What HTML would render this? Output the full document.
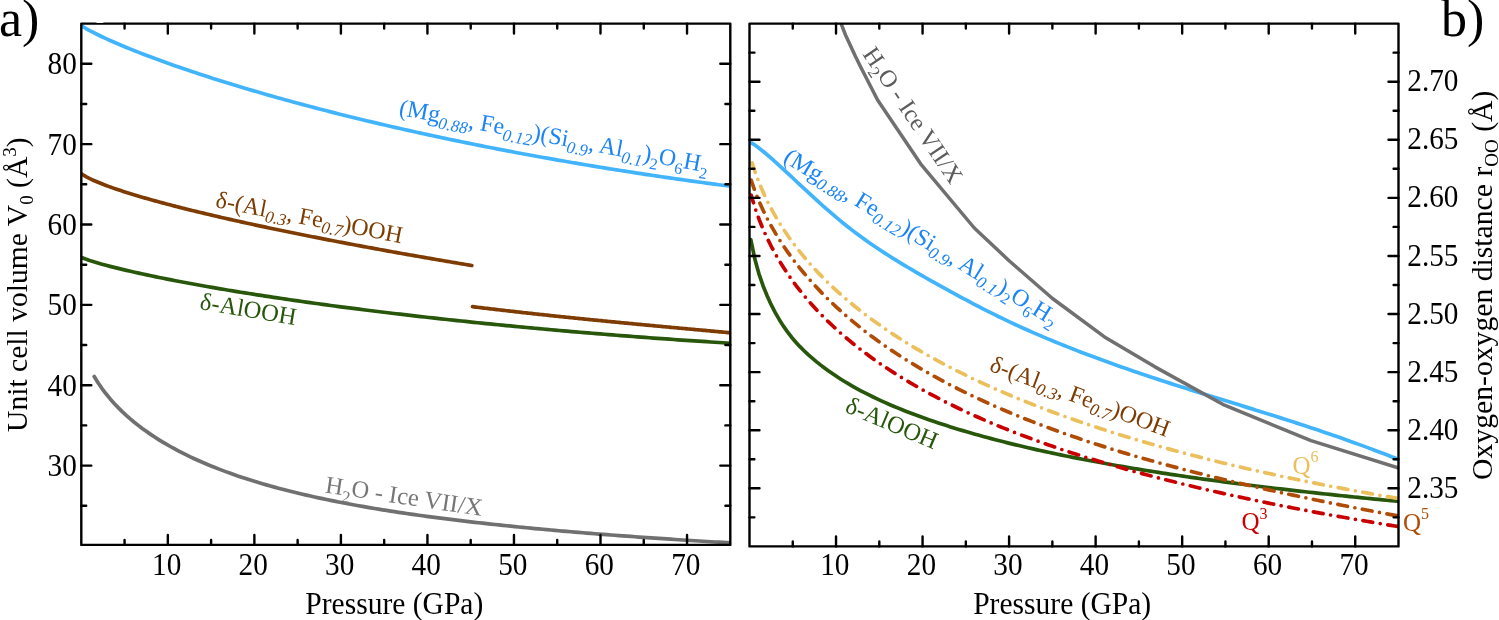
<!DOCTYPE html>
<html><head><meta charset="utf-8"><style>
html,body{margin:0;padding:0;background:#fff;width:1499px;height:620px;overflow:hidden;}
</style></head><body>
<svg width="1499" height="620" viewBox="0 0 1499 620" style="position:absolute;left:0;top:0;will-change:transform">
<rect width="1499" height="620" fill="#fff"/>
<defs><clipPath id="ca"><rect x="81.3" y="23.6" width="649.0" height="521.3"/></clipPath><clipPath id="cb"><rect x="749.5" y="23.6" width="649.0" height="522.8"/></clipPath></defs>
<g clip-path="url(#ca)">
<path d="M81.5,25.72 L85.58,28.27 L89.67,30.57 L93.75,32.72 L97.84,34.77 L101.92,36.73 L106.01,38.63 L110.09,40.48 L114.18,42.28 L118.26,44.04 L122.35,45.76 L126.43,47.45 L130.52,49.11 L134.6,50.75 L138.69,52.35 L142.77,53.94 L146.86,55.5 L150.94,57.04 L155.03,58.56 L159.11,60.06 L163.2,61.54 L167.28,63.01 L171.37,64.46 L175.45,65.89 L179.54,67.31 L183.62,68.71 L187.71,70.1 L191.79,71.48 L195.88,72.84 L199.96,74.18 L204.05,75.52 L208.13,76.84 L212.22,78.15 L216.3,79.45 L220.39,80.74 L224.47,82.01 L228.56,83.28 L232.64,84.53 L236.73,85.78 L240.81,87.01 L244.9,88.23 L248.98,89.45 L253.07,90.65 L257.15,91.85 L261.24,93.03 L265.32,94.21 L269.41,95.37 L273.49,96.53 L277.58,97.68 L281.66,98.82 L285.75,99.95 L289.83,101.07 L293.92,102.19 L298,103.29 L302.08,104.39 L306.17,105.48 L310.25,106.56 L314.34,107.64 L318.42,108.71 L322.51,109.76 L326.59,110.82 L330.68,111.86 L334.76,112.9 L338.85,113.93 L342.93,114.95 L347.02,115.97 L351.1,116.97 L355.19,117.97 L359.27,118.97 L363.36,119.96 L367.44,120.94 L371.53,121.91 L375.61,122.88 L379.7,123.84 L383.78,124.8 L387.87,125.74 L391.95,126.69 L396.04,127.62 L400.12,128.55 L404.21,129.47 L408.29,130.39 L412.38,131.3 L416.46,132.2 L420.55,133.1 L424.63,133.99 L428.72,134.88 L432.8,135.76 L436.89,136.64 L440.97,137.51 L445.06,138.37 L449.14,139.23 L453.23,140.08 L457.31,140.92 L461.4,141.76 L465.48,142.6 L469.57,143.43 L473.65,144.25 L477.74,145.07 L481.82,145.88 L485.91,146.69 L489.99,147.49 L494.08,148.29 L498.16,149.08 L502.25,149.87 L506.33,150.65 L510.42,151.43 L514.5,152.2 L518.58,152.96 L522.67,153.72 L526.75,154.48 L530.84,155.23 L534.92,155.97 L539.01,156.71 L543.09,157.45 L547.18,158.18 L551.26,158.91 L555.35,159.63 L559.43,160.34 L563.52,161.05 L567.6,161.76 L571.69,162.46 L575.77,163.16 L579.86,163.85 L583.94,164.54 L588.03,165.22 L592.11,165.9 L596.2,166.57 L600.28,167.24 L604.37,167.91 L608.45,168.56 L612.54,169.22 L616.62,169.87 L620.71,170.52 L624.79,171.16 L628.88,171.79 L632.96,172.43 L637.05,173.05 L641.13,173.68 L645.22,174.3 L649.3,174.91 L653.39,175.52 L657.47,176.13 L661.56,176.73 L665.64,177.33 L669.73,177.92 L673.81,178.51 L677.9,179.1 L681.98,179.68 L686.07,180.25 L690.15,180.83 L694.24,181.39 L698.32,181.96 L702.41,182.52 L706.49,183.07 L710.58,183.62 L714.66,184.17 L718.75,184.71 L722.83,185.25 L726.92,185.79 L731,186.32" fill="none" stroke="#42b4fc" stroke-width="3.7" stroke-linecap="round" stroke-linejoin="round" />
<path d="M81.5,173.88 L83.95,175.47 L86.41,176.88 L88.86,178.16 L91.32,179.35 L93.77,180.48 L96.23,181.55 L98.68,182.58 L101.14,183.57 L103.59,184.53 L106.05,185.46 L108.5,186.37 L110.96,187.25 L113.41,188.12 L115.87,188.96 L118.32,189.79 L120.78,190.61 L123.23,191.41 L125.68,192.19 L128.14,192.97 L130.59,193.73 L133.05,194.49 L135.5,195.23 L137.96,195.96 L140.41,196.69 L142.87,197.41 L145.32,198.11 L147.78,198.82 L150.23,199.51 L152.69,200.2 L155.14,200.88 L157.6,201.55 L160.05,202.22 L162.51,202.88 L164.96,203.54 L167.42,204.19 L169.87,204.83 L172.32,205.48 L174.78,206.11 L177.23,206.74 L179.69,207.37 L182.14,207.99 L184.6,208.61 L187.05,209.22 L189.51,209.83 L191.96,210.44 L194.42,211.04 L196.87,211.64 L199.33,212.23 L201.78,212.82 L204.24,213.41 L206.69,213.99 L209.15,214.57 L211.6,215.15 L214.05,215.73 L216.51,216.3 L218.96,216.87 L221.42,217.43 L223.87,217.99 L226.33,218.55 L228.78,219.11 L231.24,219.66 L233.69,220.22 L236.15,220.77 L238.6,221.31 L241.06,221.86 L243.51,222.4 L245.97,222.94 L248.42,223.47 L250.88,224.01 L253.33,224.54 L255.78,225.07 L258.24,225.6 L260.69,226.12 L263.15,226.65 L265.6,227.17 L268.06,227.69 L270.51,228.2 L272.97,228.72 L275.42,229.23 L277.88,229.74 L280.33,230.25 L282.79,230.76 L285.24,231.26 L287.7,231.77 L290.15,232.27 L292.61,232.77 L295.06,233.27 L297.52,233.76 L299.97,234.26 L302.42,234.75 L304.88,235.24 L307.33,235.73 L309.79,236.22 L312.24,236.71 L314.7,237.19 L317.15,237.68 L319.61,238.16 L322.06,238.64 L324.52,239.12 L326.97,239.59 L329.43,240.07 L331.88,240.54 L334.34,241.01 L336.79,241.49 L339.25,241.96 L341.7,242.42 L344.15,242.89 L346.61,243.36 L349.06,243.82 L351.52,244.28 L353.97,244.74 L356.43,245.2 L358.88,245.66 L361.34,246.12 L363.79,246.58 L366.25,247.03 L368.7,247.48 L371.16,247.94 L373.61,248.39 L376.07,248.84 L378.52,249.29 L380.98,249.73 L383.43,250.18 L385.88,250.62 L388.34,251.07 L390.79,251.51 L393.25,251.95 L395.7,252.39 L398.16,252.83 L400.61,253.27 L403.07,253.71 L405.52,254.14 L407.98,254.58 L410.43,255.01 L412.89,255.44 L415.34,255.87 L417.8,256.3 L420.25,256.73 L422.71,257.16 L425.16,257.59 L427.62,258.02 L430.07,258.44 L432.52,258.86 L434.98,259.29 L437.43,259.71 L439.89,260.13 L442.34,260.55 L444.8,260.97 L447.25,261.39 L449.71,261.8 L452.16,262.22 L454.62,262.63 L457.07,263.05 L459.53,263.46 L461.98,263.87 L464.44,264.29 L466.89,264.7 L469.35,265.11 L471.8,265.51" fill="none" stroke="#7e3b02" stroke-width="3.7" stroke-linecap="round" stroke-linejoin="round" />
<path d="M472.5,306.68 L474.13,306.87 L475.75,307.07 L477.38,307.27 L479,307.47 L480.63,307.66 L482.25,307.86 L483.88,308.05 L485.51,308.25 L487.13,308.44 L488.76,308.64 L490.38,308.83 L492.01,309.02 L493.64,309.21 L495.26,309.4 L496.89,309.59 L498.51,309.78 L500.14,309.97 L501.76,310.16 L503.39,310.35 L505.02,310.53 L506.64,310.72 L508.27,310.91 L509.89,311.09 L511.52,311.28 L513.14,311.46 L514.77,311.64 L516.4,311.83 L518.02,312.01 L519.65,312.19 L521.27,312.37 L522.9,312.55 L524.53,312.73 L526.15,312.91 L527.78,313.09 L529.4,313.27 L531.03,313.45 L532.65,313.63 L534.28,313.8 L535.91,313.98 L537.53,314.16 L539.16,314.33 L540.78,314.51 L542.41,314.68 L544.03,314.86 L545.66,315.03 L547.29,315.2 L548.91,315.38 L550.54,315.55 L552.16,315.72 L553.79,315.89 L555.42,316.06 L557.04,316.23 L558.67,316.4 L560.29,316.57 L561.92,316.74 L563.54,316.91 L565.17,317.08 L566.8,317.25 L568.42,317.41 L570.05,317.58 L571.67,317.75 L573.3,317.91 L574.92,318.08 L576.55,318.25 L578.18,318.41 L579.8,318.58 L581.43,318.74 L583.05,318.9 L584.68,319.07 L586.31,319.23 L587.93,319.39 L589.56,319.56 L591.18,319.72 L592.81,319.88 L594.43,320.04 L596.06,320.2 L597.69,320.36 L599.31,320.52 L600.94,320.68 L602.56,320.84 L604.19,321 L605.81,321.16 L607.44,321.32 L609.07,321.48 L610.69,321.64 L612.32,321.8 L613.94,321.95 L615.57,322.11 L617.19,322.27 L618.82,322.42 L620.45,322.58 L622.07,322.74 L623.7,322.89 L625.32,323.05 L626.95,323.21 L628.58,323.36 L630.2,323.52 L631.83,323.67 L633.45,323.82 L635.08,323.98 L636.7,324.13 L638.33,324.29 L639.96,324.44 L641.58,324.59 L643.21,324.75 L644.83,324.9 L646.46,325.05 L648.08,325.21 L649.71,325.36 L651.34,325.51 L652.96,325.66 L654.59,325.82 L656.21,325.97 L657.84,326.12 L659.47,326.27 L661.09,326.42 L662.72,326.57 L664.34,326.72 L665.97,326.87 L667.59,327.03 L669.22,327.18 L670.85,327.33 L672.47,327.48 L674.1,327.63 L675.72,327.78 L677.35,327.93 L678.97,328.08 L680.6,328.23 L682.23,328.38 L683.85,328.53 L685.48,328.68 L687.1,328.82 L688.73,328.97 L690.36,329.12 L691.98,329.27 L693.61,329.42 L695.23,329.57 L696.86,329.72 L698.48,329.87 L700.11,330.02 L701.74,330.17 L703.36,330.32 L704.99,330.46 L706.61,330.61 L708.24,330.76 L709.86,330.91 L711.49,331.06 L713.12,331.21 L714.74,331.36 L716.37,331.5 L717.99,331.65 L719.62,331.8 L721.25,331.95 L722.87,332.1 L724.5,332.25 L726.12,332.4 L727.75,332.55 L729.37,332.69 L731,332.84" fill="none" stroke="#7e3b02" stroke-width="3.7" stroke-linecap="round" stroke-linejoin="round" />
<path d="M81.5,257.44 L85.58,259.06 L89.67,260.48 L93.75,261.78 L97.84,263.01 L101.92,264.17 L106.01,265.29 L110.09,266.37 L114.18,267.41 L118.26,268.42 L122.35,269.41 L126.43,270.38 L130.52,271.32 L134.6,272.25 L138.69,273.16 L142.77,274.05 L146.86,274.92 L150.94,275.79 L155.03,276.64 L159.11,277.47 L163.2,278.3 L167.28,279.11 L171.37,279.91 L175.45,280.7 L179.54,281.48 L183.62,282.26 L187.71,283.02 L191.79,283.77 L195.88,284.52 L199.96,285.25 L204.05,285.98 L208.13,286.7 L212.22,287.42 L216.3,288.12 L220.39,288.82 L224.47,289.51 L228.56,290.2 L232.64,290.88 L236.73,291.55 L240.81,292.21 L244.9,292.87 L248.98,293.53 L253.07,294.17 L257.15,294.81 L261.24,295.45 L265.32,296.08 L269.41,296.7 L273.49,297.32 L277.58,297.94 L281.66,298.54 L285.75,299.15 L289.83,299.75 L293.92,300.34 L298,300.93 L302.08,301.51 L306.17,302.09 L310.25,302.66 L314.34,303.23 L318.42,303.79 L322.51,304.35 L326.59,304.91 L330.68,305.46 L334.76,306.01 L338.85,306.55 L342.93,307.09 L347.02,307.62 L351.1,308.15 L355.19,308.68 L359.27,309.2 L363.36,309.72 L367.44,310.23 L371.53,310.74 L375.61,311.24 L379.7,311.75 L383.78,312.24 L387.87,312.74 L391.95,313.23 L396.04,313.72 L400.12,314.2 L404.21,314.68 L408.29,315.15 L412.38,315.63 L416.46,316.09 L420.55,316.56 L424.63,317.02 L428.72,317.48 L432.8,317.94 L436.89,318.39 L440.97,318.83 L445.06,319.28 L449.14,319.72 L453.23,320.16 L457.31,320.59 L461.4,321.03 L465.48,321.45 L469.57,321.88 L473.65,322.3 L477.74,322.72 L481.82,323.14 L485.91,323.55 L489.99,323.96 L494.08,324.37 L498.16,324.77 L502.25,325.17 L506.33,325.57 L510.42,325.96 L514.5,326.35 L518.58,326.74 L522.67,327.13 L526.75,327.51 L530.84,327.89 L534.92,328.27 L539.01,328.64 L543.09,329.01 L547.18,329.38 L551.26,329.75 L555.35,330.11 L559.43,330.47 L563.52,330.83 L567.6,331.18 L571.69,331.54 L575.77,331.89 L579.86,332.23 L583.94,332.58 L588.03,332.92 L592.11,333.26 L596.2,333.59 L600.28,333.93 L604.37,334.26 L608.45,334.59 L612.54,334.91 L616.62,335.23 L620.71,335.56 L624.79,335.87 L628.88,336.19 L632.96,336.5 L637.05,336.81 L641.13,337.12 L645.22,337.43 L649.3,337.73 L653.39,338.03 L657.47,338.33 L661.56,338.62 L665.64,338.92 L669.73,339.21 L673.81,339.5 L677.9,339.78 L681.98,340.07 L686.07,340.35 L690.15,340.63 L694.24,340.9 L698.32,341.18 L702.41,341.45 L706.49,341.72 L710.58,341.98 L714.66,342.25 L718.75,342.51 L722.83,342.77 L726.92,343.03 L731,343.29" fill="none" stroke="#28570c" stroke-width="3.7" stroke-linecap="round" stroke-linejoin="round" />
<path d="M94.2,376.54 L98.21,382.97 L102.21,388.76 L106.22,394.04 L110.22,398.91 L114.23,403.42 L118.23,407.64 L122.24,411.6 L126.24,415.33 L130.25,418.86 L134.25,422.22 L138.26,425.4 L142.26,428.44 L146.27,431.35 L150.27,434.13 L154.28,436.8 L158.28,439.36 L162.29,441.83 L166.29,444.2 L170.3,446.49 L174.3,448.7 L178.31,450.84 L182.31,452.9 L186.32,454.9 L190.32,456.83 L194.33,458.71 L198.33,460.53 L202.34,462.29 L206.34,464.01 L210.35,465.67 L214.35,467.29 L218.36,468.86 L222.36,470.39 L226.37,471.88 L230.37,473.34 L234.38,474.75 L238.38,476.13 L242.39,477.47 L246.39,478.78 L250.4,480.05 L254.4,481.3 L258.41,482.52 L262.41,483.7 L266.42,484.86 L270.42,485.99 L274.43,487.1 L278.43,488.18 L282.44,489.24 L286.44,490.28 L290.45,491.29 L294.45,492.28 L298.46,493.25 L302.46,494.2 L306.47,495.14 L310.47,496.05 L314.48,496.94 L318.48,497.82 L322.49,498.68 L326.49,499.52 L330.5,500.35 L334.5,501.16 L338.51,501.95 L342.51,502.73 L346.52,503.5 L350.52,504.25 L354.53,504.99 L358.53,505.71 L362.54,506.43 L366.54,507.13 L370.55,507.81 L374.55,508.49 L378.56,509.15 L382.56,509.81 L386.57,510.45 L390.57,511.08 L394.58,511.7 L398.58,512.31 L402.59,512.91 L406.59,513.51 L410.6,514.09 L414.6,514.66 L418.61,515.23 L422.61,515.78 L426.62,516.33 L430.62,516.87 L434.63,517.4 L438.63,517.92 L442.64,518.44 L446.64,518.95 L450.65,519.45 L454.65,519.94 L458.66,520.43 L462.66,520.91 L466.67,521.38 L470.67,521.85 L474.68,522.31 L478.68,522.76 L482.69,523.21 L486.69,523.65 L490.7,524.09 L494.7,524.52 L498.71,524.94 L502.71,525.36 L506.72,525.78 L510.72,526.19 L514.73,526.59 L518.73,526.99 L522.74,527.38 L526.74,527.77 L530.75,528.16 L534.75,528.54 L538.76,528.91 L542.76,529.28 L546.77,529.65 L550.77,530.01 L554.78,530.37 L558.78,530.72 L562.79,531.07 L566.79,531.42 L570.8,531.76 L574.8,532.09 L578.81,532.43 L582.81,532.76 L586.82,533.09 L590.82,533.41 L594.83,533.73 L598.83,534.04 L602.84,534.36 L606.84,534.67 L610.85,534.97 L614.85,535.28 L618.86,535.58 L622.86,535.87 L626.87,536.17 L630.87,536.46 L634.88,536.75 L638.88,537.03 L642.89,537.31 L646.89,537.59 L650.9,537.87 L654.9,538.15 L658.91,538.42 L662.91,538.69 L666.92,538.95 L670.92,539.22 L674.93,539.48 L678.93,539.74 L682.94,540 L686.94,540.25 L690.95,540.51 L694.95,540.76 L698.96,541.01 L702.96,541.25 L706.97,541.5 L710.97,541.74 L714.98,541.98 L718.98,542.22 L722.99,542.46 L726.99,542.69 L731,542.93" fill="none" stroke="#707070" stroke-width="3.7" stroke-linecap="round" stroke-linejoin="round" />
</g>
<g clip-path="url(#cb)">
<path d="M750.8,239.51 L754.88,259.32 L758.95,273.86 L763.03,285.71 L767.11,295.81 L771.18,304.68 L775.26,312.59 L779.34,319.7 L783.41,326.12 L787.49,331.93 L791.57,337.2 L795.64,341.99 L799.72,346.4 L803.8,350.48 L807.87,354.31 L811.95,357.93 L816.03,361.36 L820.1,364.63 L824.18,367.75 L828.26,370.73 L832.33,373.59 L836.41,376.33 L840.49,378.96 L844.56,381.49 L848.64,383.94 L852.72,386.29 L856.79,388.57 L860.87,390.77 L864.95,392.91 L869.03,394.97 L873.1,396.98 L877.18,398.93 L881.26,400.82 L885.33,402.66 L889.41,404.45 L893.49,406.2 L897.56,407.9 L901.64,409.56 L905.72,411.18 L909.79,412.77 L913.87,414.32 L917.95,415.83 L922.02,417.31 L926.1,418.77 L930.18,420.19 L934.25,421.58 L938.33,422.95 L942.41,424.29 L946.48,425.61 L950.56,426.9 L954.64,428.17 L958.71,429.42 L962.79,430.64 L966.87,431.85 L970.94,433.03 L975.02,434.19 L979.1,435.34 L983.17,436.46 L987.25,437.57 L991.33,438.66 L995.4,439.73 L999.48,440.78 L1003.56,441.82 L1007.63,442.84 L1011.71,443.85 L1015.79,444.84 L1019.86,445.82 L1023.94,446.79 L1028.02,447.74 L1032.09,448.67 L1036.17,449.59 L1040.25,450.5 L1044.32,451.4 L1048.4,452.29 L1052.48,453.16 L1056.55,454.02 L1060.63,454.87 L1064.71,455.71 L1068.78,456.54 L1072.86,457.36 L1076.94,458.16 L1081.02,458.96 L1085.09,459.75 L1089.17,460.53 L1093.25,461.29 L1097.32,462.05 L1101.4,462.8 L1105.48,463.54 L1109.55,464.27 L1113.63,465 L1117.71,465.71 L1121.78,466.42 L1125.86,467.12 L1129.94,467.81 L1134.01,468.49 L1138.09,469.17 L1142.17,469.83 L1146.24,470.49 L1150.32,471.15 L1154.4,471.79 L1158.47,472.43 L1162.55,473.07 L1166.63,473.69 L1170.7,474.31 L1174.78,474.93 L1178.86,475.53 L1182.93,476.13 L1187.01,476.73 L1191.09,477.32 L1195.16,477.9 L1199.24,478.48 L1203.32,479.05 L1207.39,479.62 L1211.47,480.18 L1215.55,480.73 L1219.62,481.28 L1223.7,481.83 L1227.78,482.37 L1231.85,482.9 L1235.93,483.43 L1240.01,483.96 L1244.08,484.48 L1248.16,484.99 L1252.24,485.51 L1256.31,486.01 L1260.39,486.51 L1264.47,487.01 L1268.54,487.51 L1272.62,488 L1276.7,488.48 L1280.77,488.96 L1284.85,489.44 L1288.93,489.91 L1293.01,490.38 L1297.08,490.85 L1301.16,491.31 L1305.24,491.77 L1309.31,492.22 L1313.39,492.68 L1317.47,493.12 L1321.54,493.57 L1325.62,494.01 L1329.7,494.45 L1333.77,494.88 L1337.85,495.31 L1341.93,495.74 L1346,496.16 L1350.08,496.58 L1354.16,497 L1358.23,497.42 L1362.31,497.83 L1366.39,498.24 L1370.46,498.64 L1374.54,499.05 L1378.62,499.45 L1382.69,499.85 L1386.77,500.24 L1390.85,500.63 L1394.92,501.02 L1399,501.41" fill="none" stroke="#28570c" stroke-width="3.7" stroke-linecap="round" stroke-linejoin="round" />
<path d="M751.1,195.1 L755.17,208.42 L759.25,219.74 L763.32,229.68 L767.4,238.62 L771.47,246.76 L775.55,254.27 L779.62,261.26 L783.7,267.8 L787.77,273.95 L791.85,279.78 L795.92,285.3 L800,290.57 L804.07,295.6 L808.15,300.42 L812.22,305.04 L816.3,309.49 L820.37,313.78 L824.45,317.91 L828.52,321.91 L832.6,325.78 L836.67,329.53 L840.75,333.16 L844.82,336.69 L848.9,340.12 L852.97,343.46 L857.05,346.71 L861.12,349.87 L865.2,352.96 L869.27,355.97 L873.35,358.91 L877.42,361.78 L881.49,364.59 L885.57,367.33 L889.64,370.01 L893.72,372.64 L897.79,375.21 L901.87,377.73 L905.94,380.2 L910.02,382.62 L914.09,385 L918.17,387.33 L922.24,389.61 L926.32,391.86 L930.39,394.06 L934.47,396.23 L938.54,398.36 L942.62,400.45 L946.69,402.5 L950.77,404.53 L954.84,406.51 L958.92,408.47 L962.99,410.4 L967.07,412.29 L971.14,414.16 L975.22,415.99 L979.29,417.8 L983.37,419.59 L987.44,421.34 L991.52,423.07 L995.59,424.78 L999.67,426.46 L1003.74,428.12 L1007.82,429.75 L1011.89,431.36 L1015.96,432.95 L1020.04,434.52 L1024.11,436.07 L1028.19,437.6 L1032.26,439.1 L1036.34,440.59 L1040.41,442.06 L1044.49,443.51 L1048.56,444.94 L1052.64,446.35 L1056.71,447.75 L1060.79,449.13 L1064.86,450.49 L1068.94,451.84 L1073.01,453.17 L1077.09,454.48 L1081.16,455.78 L1085.24,457.06 L1089.31,458.33 L1093.39,459.59 L1097.46,460.83 L1101.54,462.06 L1105.61,463.27 L1109.69,464.47 L1113.76,465.66 L1117.84,466.83 L1121.91,467.99 L1125.99,469.14 L1130.06,470.28 L1134.14,471.41 L1138.21,472.52 L1142.28,473.62 L1146.36,474.72 L1150.43,475.8 L1154.51,476.87 L1158.58,477.93 L1162.66,478.98 L1166.73,480.01 L1170.81,481.04 L1174.88,482.06 L1178.96,483.07 L1183.03,484.07 L1187.11,485.06 L1191.18,486.04 L1195.26,487.01 L1199.33,487.98 L1203.41,488.93 L1207.48,489.88 L1211.56,490.81 L1215.63,491.74 L1219.71,492.66 L1223.78,493.57 L1227.86,494.48 L1231.93,495.38 L1236.01,496.26 L1240.08,497.15 L1244.16,498.02 L1248.23,498.89 L1252.31,499.75 L1256.38,500.6 L1260.46,501.44 L1264.53,502.28 L1268.61,503.11 L1272.68,503.94 L1276.75,504.75 L1280.83,505.57 L1284.9,506.37 L1288.98,507.17 L1293.05,507.96 L1297.13,508.75 L1301.2,509.53 L1305.28,510.3 L1309.35,511.07 L1313.43,511.83 L1317.5,512.59 L1321.58,513.34 L1325.65,514.09 L1329.73,514.83 L1333.8,515.56 L1337.88,516.29 L1341.95,517.01 L1346.03,517.73 L1350.1,518.45 L1354.18,519.15 L1358.25,519.86 L1362.33,520.56 L1366.4,521.25 L1370.48,521.94 L1374.55,522.62 L1378.63,523.3 L1382.7,523.98 L1386.78,524.65 L1390.85,525.32 L1394.93,525.98 L1399,526.64" fill="none" stroke="#c80000" stroke-width="3.7" stroke-linecap="round" stroke-linejoin="round" stroke-dasharray="9.87 7.65 0 7.65" stroke-dashoffset="1.8"/>
<path d="M751.1,180.23 L755.17,191.79 L759.25,201.81 L763.32,210.76 L767.4,218.9 L771.47,226.43 L775.55,233.44 L779.62,240.02 L783.7,246.24 L787.77,252.14 L791.85,257.77 L795.92,263.14 L800,268.3 L804.07,273.25 L808.15,278.02 L812.22,282.62 L816.3,287.07 L820.37,291.37 L824.45,295.54 L828.52,299.58 L832.6,303.51 L836.67,307.32 L840.75,311.03 L844.82,314.64 L848.9,318.16 L852.97,321.59 L857.05,324.93 L861.12,328.19 L865.2,331.38 L869.27,334.49 L873.35,337.53 L877.42,340.51 L881.49,343.42 L885.57,346.27 L889.64,349.05 L893.72,351.79 L897.79,354.47 L901.87,357.09 L905.94,359.67 L910.02,362.2 L914.09,364.68 L918.17,367.11 L922.24,369.5 L926.32,371.85 L930.39,374.16 L934.47,376.43 L938.54,378.67 L942.62,380.86 L946.69,383.02 L950.77,385.15 L954.84,387.24 L958.92,389.3 L962.99,391.32 L967.07,393.32 L971.14,395.28 L975.22,397.22 L979.29,399.13 L983.37,401.01 L987.44,402.86 L991.52,404.68 L995.59,406.48 L999.67,408.26 L1003.74,410.01 L1007.82,411.73 L1011.89,413.44 L1015.96,415.12 L1020.04,416.77 L1024.11,418.41 L1028.19,420.02 L1032.26,421.61 L1036.34,423.18 L1040.41,424.74 L1044.49,426.27 L1048.56,427.78 L1052.64,429.27 L1056.71,430.75 L1060.79,432.21 L1064.86,433.65 L1068.94,435.07 L1073.01,436.47 L1077.09,437.86 L1081.16,439.24 L1085.24,440.6 L1089.31,441.94 L1093.39,443.27 L1097.46,444.58 L1101.54,445.88 L1105.61,447.16 L1109.69,448.43 L1113.76,449.69 L1117.84,450.94 L1121.91,452.17 L1125.99,453.39 L1130.06,454.6 L1134.14,455.79 L1138.21,456.98 L1142.28,458.15 L1146.36,459.31 L1150.43,460.46 L1154.51,461.6 L1158.58,462.73 L1162.66,463.84 L1166.73,464.95 L1170.81,466.05 L1174.88,467.14 L1178.96,468.21 L1183.03,469.28 L1187.11,470.34 L1191.18,471.39 L1195.26,472.44 L1199.33,473.47 L1203.41,474.49 L1207.48,475.51 L1211.56,476.52 L1215.63,477.52 L1219.71,478.51 L1223.78,479.49 L1227.86,480.47 L1231.93,481.44 L1236.01,482.4 L1240.08,483.35 L1244.16,484.3 L1248.23,485.24 L1252.31,486.18 L1256.38,487.1 L1260.46,488.02 L1264.53,488.94 L1268.61,489.84 L1272.68,490.74 L1276.75,491.64 L1280.83,492.53 L1284.9,493.41 L1288.98,494.29 L1293.05,495.16 L1297.13,496.03 L1301.2,496.89 L1305.28,497.74 L1309.35,498.59 L1313.43,499.44 L1317.5,500.28 L1321.58,501.11 L1325.65,501.94 L1329.73,502.76 L1333.8,503.58 L1337.88,504.4 L1341.95,505.21 L1346.03,506.01 L1350.1,506.81 L1354.18,507.61 L1358.25,508.4 L1362.33,509.19 L1366.4,509.98 L1370.48,510.76 L1374.55,511.53 L1378.63,512.31 L1382.7,513.07 L1386.78,513.84 L1390.85,514.6 L1394.93,515.36 L1399,516.11" fill="none" stroke="#b04c06" stroke-width="3.7" stroke-linecap="round" stroke-linejoin="round" stroke-dasharray="9.8 7.6 0 7.6" stroke-dashoffset="0.3"/>
<path d="M752.1,162.99 L756.17,175.1 L760.24,185.54 L764.31,194.82 L768.37,203.21 L772.44,210.92 L776.51,218.07 L780.58,224.75 L784.65,231.03 L788.72,236.96 L792.79,242.6 L796.85,247.96 L800.92,253.09 L804.99,258.01 L809.06,262.73 L813.13,267.28 L817.2,271.66 L821.27,275.89 L825.33,279.99 L829.4,283.96 L833.47,287.81 L837.54,291.54 L841.61,295.17 L845.68,298.71 L849.75,302.15 L853.81,305.5 L857.88,308.78 L861.95,311.97 L866.02,315.09 L870.09,318.14 L874.16,321.12 L878.23,324.03 L882.29,326.89 L886.36,329.68 L890.43,332.42 L894.5,335.11 L898.57,337.74 L902.64,340.33 L906.71,342.87 L910.77,345.36 L914.84,347.8 L918.91,350.2 L922.98,352.57 L927.05,354.89 L931.12,357.17 L935.18,359.42 L939.25,361.63 L943.32,363.8 L947.39,365.94 L951.46,368.05 L955.53,370.12 L959.6,372.17 L963.66,374.18 L967.73,376.17 L971.8,378.12 L975.87,380.05 L979.94,381.95 L984.01,383.83 L988.08,385.68 L992.14,387.5 L996.21,389.3 L1000.28,391.08 L1004.35,392.83 L1008.42,394.56 L1012.49,396.27 L1016.56,397.95 L1020.62,399.62 L1024.69,401.26 L1028.76,402.89 L1032.83,404.49 L1036.9,406.07 L1040.97,407.64 L1045.04,409.19 L1049.1,410.72 L1053.17,412.23 L1057.24,413.72 L1061.31,415.2 L1065.38,416.66 L1069.45,418.1 L1073.52,419.53 L1077.58,420.94 L1081.65,422.34 L1085.72,423.72 L1089.79,425.08 L1093.86,426.43 L1097.93,427.77 L1102,429.09 L1106.06,430.4 L1110.13,431.7 L1114.2,432.98 L1118.27,434.24 L1122.34,435.5 L1126.41,436.74 L1130.48,437.97 L1134.54,439.19 L1138.61,440.39 L1142.68,441.59 L1146.75,442.77 L1150.82,443.94 L1154.89,445.1 L1158.96,446.24 L1163.02,447.38 L1167.09,448.5 L1171.16,449.62 L1175.23,450.72 L1179.3,451.81 L1183.37,452.9 L1187.44,453.97 L1191.5,455.03 L1195.57,456.08 L1199.64,457.13 L1203.71,458.16 L1207.78,459.18 L1211.85,460.2 L1215.92,461.2 L1219.98,462.2 L1224.05,463.19 L1228.12,464.17 L1232.19,465.14 L1236.26,466.1 L1240.33,467.05 L1244.39,468 L1248.46,468.93 L1252.53,469.86 L1256.6,470.78 L1260.67,471.69 L1264.74,472.6 L1268.81,473.49 L1272.87,474.38 L1276.94,475.26 L1281.01,476.14 L1285.08,477 L1289.15,477.86 L1293.22,478.71 L1297.29,479.56 L1301.35,480.39 L1305.42,481.22 L1309.49,482.05 L1313.56,482.86 L1317.63,483.67 L1321.7,484.48 L1325.77,485.27 L1329.83,486.06 L1333.9,486.85 L1337.97,487.63 L1342.04,488.4 L1346.11,489.16 L1350.18,489.92 L1354.25,490.67 L1358.31,491.42 L1362.38,492.16 L1366.45,492.89 L1370.52,493.62 L1374.59,494.35 L1378.66,495.06 L1382.73,495.77 L1386.79,496.48 L1390.86,497.18 L1394.93,497.87 L1399,498.56" fill="none" stroke="#ebbf5c" stroke-width="3.7" stroke-linecap="round" stroke-linejoin="round" stroke-dasharray="9.8 7.6 0 7.6"/>
<path d="M749.7,141.71 L753.78,144.37 L757.87,147.31 L761.95,150.46 L766.03,153.8 L770.12,157.28 L774.2,160.87 L778.29,164.55 L782.37,168.29 L786.45,172.08 L790.54,175.9 L794.62,179.73 L798.7,183.56 L802.79,187.39 L806.87,191.19 L810.95,194.97 L815.04,198.72 L819.12,202.42 L823.21,206.07 L827.29,209.67 L831.37,213.22 L835.46,216.7 L839.54,220.11 L843.62,223.45 L847.71,226.72 L851.79,229.91 L855.87,233.03 L859.96,236.06 L864.04,239.02 L868.13,241.92 L872.21,244.75 L876.29,247.52 L880.38,250.23 L884.46,252.9 L888.54,255.52 L892.63,258.1 L896.71,260.63 L900.79,263.13 L904.88,265.6 L908.96,268.03 L913.05,270.44 L917.13,272.82 L921.21,275.18 L925.3,277.51 L929.38,279.83 L933.46,282.13 L937.55,284.41 L941.63,286.67 L945.72,288.92 L949.8,291.16 L953.88,293.39 L957.97,295.6 L962.05,297.8 L966.13,299.98 L970.22,302.15 L974.3,304.3 L978.38,306.42 L982.47,308.53 L986.55,310.61 L990.64,312.68 L994.72,314.71 L998.8,316.72 L1002.89,318.7 L1006.97,320.66 L1011.05,322.59 L1015.14,324.49 L1019.22,326.37 L1023.3,328.22 L1027.39,330.05 L1031.47,331.85 L1035.56,333.63 L1039.64,335.39 L1043.72,337.13 L1047.81,338.85 L1051.89,340.55 L1055.97,342.23 L1060.06,343.89 L1064.14,345.53 L1068.22,347.15 L1072.31,348.76 L1076.39,350.35 L1080.48,351.93 L1084.56,353.49 L1088.64,355.03 L1092.73,356.56 L1096.81,358.08 L1100.89,359.58 L1104.98,361.07 L1109.06,362.54 L1113.14,364.01 L1117.23,365.46 L1121.31,366.9 L1125.4,368.33 L1129.48,369.74 L1133.56,371.15 L1137.65,372.54 L1141.73,373.93 L1145.81,375.31 L1149.9,376.67 L1153.98,378.03 L1158.06,379.38 L1162.15,380.72 L1166.23,382.05 L1170.32,383.38 L1174.4,384.7 L1178.48,386.01 L1182.57,387.31 L1186.65,388.6 L1190.73,389.89 L1194.82,391.18 L1198.9,392.46 L1202.98,393.73 L1207.07,395 L1211.15,396.27 L1215.24,397.53 L1219.32,398.79 L1223.4,400.05 L1227.49,401.31 L1231.57,402.57 L1235.65,403.83 L1239.74,405.09 L1243.82,406.36 L1247.91,407.62 L1251.99,408.89 L1256.07,410.16 L1260.16,411.43 L1264.24,412.71 L1268.32,413.99 L1272.41,415.28 L1276.49,416.57 L1280.57,417.87 L1284.66,419.17 L1288.74,420.48 L1292.83,421.8 L1296.91,423.12 L1300.99,424.45 L1305.08,425.79 L1309.16,427.14 L1313.24,428.5 L1317.33,429.87 L1321.41,431.25 L1325.49,432.63 L1329.58,434.03 L1333.66,435.44 L1337.75,436.86 L1341.83,438.29 L1345.91,439.73 L1350,441.18 L1354.08,442.65 L1358.16,444.13 L1362.25,445.62 L1366.33,447.12 L1370.41,448.64 L1374.5,450.17 L1378.58,451.72 L1382.67,453.27 L1386.75,454.85 L1390.83,456.44 L1394.92,458.04 L1399,459.66" fill="none" stroke="#42b4fc" stroke-width="3.7" stroke-linecap="round" stroke-linejoin="round" />
<path d="M840.4,20 L841.5,24.6 L845.5,35 L850.5,45.8 L855.5,56.5 L860.8,67.2 L877.6,100 L920.6,163.8 L974.3,228 L1009.1,260.7 L1052.5,298.5 L1104.5,336.9 L1154.5,366.6 L1224.5,405.2 L1311,440.6 L1400,468.5" fill="none" stroke="#707070" stroke-width="3.5" stroke-linecap="round" stroke-linejoin="round" />
</g>
<path d="M81.3,23.6 L730.3,23.6 L730.3,544.9 L81.3,544.9 Z" fill="none" stroke="#000" stroke-width="2.4" stroke-linejoin="round"/>
<path d="M167.83,544.9 v-10.0 M167.83,23.6 v10.0 M254.37,544.9 v-10.0 M254.37,23.6 v10.0 M340.9,544.9 v-10.0 M340.9,23.6 v10.0 M427.43,544.9 v-10.0 M427.43,23.6 v10.0 M513.97,544.9 v-10.0 M513.97,23.6 v10.0 M600.5,544.9 v-10.0 M600.5,23.6 v10.0 M687.03,544.9 v-10.0 M687.03,23.6 v10.0 M124.57,544.9 v-4.9 M124.57,23.6 v4.9 M211.1,544.9 v-4.9 M211.1,23.6 v4.9 M297.63,544.9 v-4.9 M297.63,23.6 v4.9 M384.17,544.9 v-4.9 M384.17,23.6 v4.9 M470.7,544.9 v-4.9 M470.7,23.6 v4.9 M557.23,544.9 v-4.9 M557.23,23.6 v4.9 M643.77,544.9 v-4.9 M643.77,23.6 v4.9 M81.3,465.58 h10.0 M730.3,465.58 h-10.0 M81.3,385.22 h10.0 M730.3,385.22 h-10.0 M81.3,304.86 h10.0 M730.3,304.86 h-10.0 M81.3,224.5 h10.0 M730.3,224.5 h-10.0 M81.3,144.14 h10.0 M730.3,144.14 h-10.0 M81.3,63.78 h10.0 M730.3,63.78 h-10.0 M81.3,505.76 h4.9 M730.3,505.76 h-4.9 M81.3,425.4 h4.9 M730.3,425.4 h-4.9 M81.3,345.04 h4.9 M730.3,345.04 h-4.9 M81.3,264.68 h4.9 M730.3,264.68 h-4.9 M81.3,184.32 h4.9 M730.3,184.32 h-4.9 M81.3,103.96 h4.9 M730.3,103.96 h-4.9" fill="none" stroke="#000" stroke-width="2.4" stroke-linecap="round"/>
<path d="M749.5,23.6 L1398.5,23.6 L1398.5,546.4 L749.5,546.4 Z" fill="none" stroke="#000" stroke-width="2.4" stroke-linejoin="round"/>
<path d="M836.03,546.4 v-10.0 M836.03,23.6 v10.0 M922.57,546.4 v-10.0 M922.57,23.6 v10.0 M1009.1,546.4 v-10.0 M1009.1,23.6 v10.0 M1095.63,546.4 v-10.0 M1095.63,23.6 v10.0 M1182.17,546.4 v-10.0 M1182.17,23.6 v10.0 M1268.7,546.4 v-10.0 M1268.7,23.6 v10.0 M1355.23,546.4 v-10.0 M1355.23,23.6 v10.0 M792.77,546.4 v-4.9 M792.77,23.6 v4.9 M879.3,546.4 v-4.9 M879.3,23.6 v4.9 M965.83,546.4 v-4.9 M965.83,23.6 v4.9 M1052.37,546.4 v-4.9 M1052.37,23.6 v4.9 M1138.9,546.4 v-4.9 M1138.9,23.6 v4.9 M1225.43,546.4 v-4.9 M1225.43,23.6 v4.9 M1311.97,546.4 v-4.9 M1311.97,23.6 v4.9 M749.5,488.31 h10.0 M1398.5,488.31 h-10.0 M749.5,430.22 h10.0 M1398.5,430.22 h-10.0 M749.5,372.13 h10.0 M1398.5,372.13 h-10.0 M749.5,314.04 h10.0 M1398.5,314.04 h-10.0 M749.5,255.96 h10.0 M1398.5,255.96 h-10.0 M749.5,197.87 h10.0 M1398.5,197.87 h-10.0 M749.5,139.78 h10.0 M1398.5,139.78 h-10.0 M749.5,81.69 h10.0 M1398.5,81.69 h-10.0 M749.5,517.36 h4.9 M1398.5,517.36 h-4.9 M749.5,459.27 h4.9 M1398.5,459.27 h-4.9 M749.5,401.18 h4.9 M1398.5,401.18 h-4.9 M749.5,343.09 h4.9 M1398.5,343.09 h-4.9 M749.5,285 h4.9 M1398.5,285 h-4.9 M749.5,226.91 h4.9 M1398.5,226.91 h-4.9 M749.5,168.82 h4.9 M1398.5,168.82 h-4.9 M749.5,110.73 h4.9 M1398.5,110.73 h-4.9 M749.5,52.64 h4.9 M1398.5,52.64 h-4.9" fill="none" stroke="#000" stroke-width="2.4" stroke-linecap="round"/>
<ellipse cx="99.8" cy="19.0" rx="6.2" ry="4.1" fill="#fff"/>
<text transform="translate(76.8,475.98) scale(0.975,1.045)" font-family='"Liberation Serif", serif' font-size="30" text-anchor="end">30</text>
<text transform="translate(76.8,395.62) scale(0.975,1.045)" font-family='"Liberation Serif", serif' font-size="30" text-anchor="end">40</text>
<text transform="translate(76.8,315.26) scale(0.975,1.045)" font-family='"Liberation Serif", serif' font-size="30" text-anchor="end">50</text>
<text transform="translate(76.8,234.9) scale(0.975,1.045)" font-family='"Liberation Serif", serif' font-size="30" text-anchor="end">60</text>
<text transform="translate(76.8,154.54) scale(0.975,1.045)" font-family='"Liberation Serif", serif' font-size="30" text-anchor="end">70</text>
<text transform="translate(76.8,74.18) scale(0.975,1.045)" font-family='"Liberation Serif", serif' font-size="30" text-anchor="end">80</text>
<text transform="translate(166.63,574.8) scale(0.975,1.045)" font-family='"Liberation Serif", serif' font-size="30" text-anchor="middle">10</text>
<text transform="translate(834.83,574.8) scale(0.975,1.045)" font-family='"Liberation Serif", serif' font-size="30" text-anchor="middle">10</text>
<text transform="translate(253.17,574.8) scale(0.975,1.045)" font-family='"Liberation Serif", serif' font-size="30" text-anchor="middle">20</text>
<text transform="translate(921.37,574.8) scale(0.975,1.045)" font-family='"Liberation Serif", serif' font-size="30" text-anchor="middle">20</text>
<text transform="translate(339.7,574.8) scale(0.975,1.045)" font-family='"Liberation Serif", serif' font-size="30" text-anchor="middle">30</text>
<text transform="translate(1007.9,574.8) scale(0.975,1.045)" font-family='"Liberation Serif", serif' font-size="30" text-anchor="middle">30</text>
<text transform="translate(426.23,574.8) scale(0.975,1.045)" font-family='"Liberation Serif", serif' font-size="30" text-anchor="middle">40</text>
<text transform="translate(1094.43,574.8) scale(0.975,1.045)" font-family='"Liberation Serif", serif' font-size="30" text-anchor="middle">40</text>
<text transform="translate(512.77,574.8) scale(0.975,1.045)" font-family='"Liberation Serif", serif' font-size="30" text-anchor="middle">50</text>
<text transform="translate(1180.97,574.8) scale(0.975,1.045)" font-family='"Liberation Serif", serif' font-size="30" text-anchor="middle">50</text>
<text transform="translate(599.3,574.8) scale(0.975,1.045)" font-family='"Liberation Serif", serif' font-size="30" text-anchor="middle">60</text>
<text transform="translate(1267.5,574.8) scale(0.975,1.045)" font-family='"Liberation Serif", serif' font-size="30" text-anchor="middle">60</text>
<text transform="translate(685.83,574.8) scale(0.975,1.045)" font-family='"Liberation Serif", serif' font-size="30" text-anchor="middle">70</text>
<text transform="translate(1354.03,574.8) scale(0.975,1.045)" font-family='"Liberation Serif", serif' font-size="30" text-anchor="middle">70</text>
<text transform="translate(1407.3,497.91) scale(0.975,1.045)" font-family='"Liberation Serif", serif' font-size="30" text-anchor="start">2.35</text>
<text transform="translate(1407.3,439.82) scale(0.975,1.045)" font-family='"Liberation Serif", serif' font-size="30" text-anchor="start">2.40</text>
<text transform="translate(1407.3,381.73) scale(0.975,1.045)" font-family='"Liberation Serif", serif' font-size="30" text-anchor="start">2.45</text>
<text transform="translate(1407.3,323.64) scale(0.975,1.045)" font-family='"Liberation Serif", serif' font-size="30" text-anchor="start">2.50</text>
<text transform="translate(1407.3,265.56) scale(0.975,1.045)" font-family='"Liberation Serif", serif' font-size="30" text-anchor="start">2.55</text>
<text transform="translate(1407.3,207.47) scale(0.975,1.045)" font-family='"Liberation Serif", serif' font-size="30" text-anchor="start">2.60</text>
<text transform="translate(1407.3,149.38) scale(0.975,1.045)" font-family='"Liberation Serif", serif' font-size="30" text-anchor="start">2.65</text>
<text transform="translate(1407.3,91.29) scale(0.975,1.045)" font-family='"Liberation Serif", serif' font-size="30" text-anchor="start">2.70</text>
<text transform="translate(394.3,614.2) scale(0.985,1.045)" font-family='"Liberation Serif", serif' font-size="30" text-anchor="middle">Pressure (GPa)</text>
<text transform="translate(1062.2,614.2) scale(0.985,1.045)" font-family='"Liberation Serif", serif' font-size="30" text-anchor="middle">Pressure (GPa)</text>
<text transform="translate(27.2,284.6) rotate(-90)" font-family='"Liberation Serif", serif' font-size="29.6" text-anchor="middle">Unit cell volume V<tspan font-size="19" dy="6">0</tspan><tspan dy="-6"> (Å</tspan><tspan font-size="19" dy="-11">3</tspan><tspan dy="11">)</tspan></text>
<text transform="translate(1492.2,285.3) rotate(-90)" font-family='"Liberation Serif", serif' font-size="29.7" text-anchor="middle">Oxygen-oxygen distance r<tspan font-size="19" dy="6">OO</tspan><tspan dy="-6"> (Å)</tspan></text>
<text x="-1" y="35.5" font-family='"Liberation Serif", serif' font-size="52" fill="#000" text-anchor="start" >a)</text>
<text x="1441" y="35.5" font-family='"Liberation Serif", serif' font-size="52" fill="#000" text-anchor="start" >b)</text>
<text transform="translate(398.3,114.9) rotate(10.6) scale(0.993,1)" font-family='"Liberation Serif", serif' font-size="24" fill="#1a84f8">(Mg<tspan font-size="17" dy="6" font-style="italic">0.88</tspan><tspan dy="-6">, Fe</tspan><tspan font-size="17" dy="6" font-style="italic">0.12</tspan><tspan dy="-6">)(Si</tspan><tspan font-size="17" dy="6" font-style="italic">0.9</tspan><tspan dy="-6">, Al</tspan><tspan font-size="17" dy="6" font-style="italic">0.1</tspan><tspan dy="-6">)</tspan><tspan font-size="16" dy="6.5">2</tspan><tspan dy="-6.5">O</tspan><tspan font-size="16" dy="6.5">6</tspan><tspan dy="-6.5">H</tspan><tspan font-size="16" dy="6.5">2</tspan><tspan dy="-6.5"></tspan></text>
<text transform="translate(214.8,207) rotate(11.0)" font-family='"Liberation Serif", serif' font-size="24" fill="#7e3b02">δ-(Al<tspan font-size="17" dy="5" font-style="italic">0.3</tspan><tspan dy="-5">, Fe</tspan><tspan font-size="17" dy="5" font-style="italic">0.7</tspan><tspan dy="-5">)OOH</tspan></text>
<text transform="translate(199,309) rotate(9.5)" font-family='"Liberation Serif", serif' font-size="24.5" fill="#28570c">δ-AlOOH</text>
<text transform="translate(324.5,492.5) rotate(8.5)" font-family='"Liberation Serif", serif' font-size="24.5" fill="#767676">H<tspan font-size="17" dy="7">2</tspan><tspan dy="-7">O - Ice VII/X</tspan></text>
<text transform="translate(862,54) rotate(56.0)" font-family='"Liberation Serif", serif' font-size="24.5" fill="#5c5c5c">H<tspan font-size="17" dy="6">2</tspan><tspan dy="-6">O - Ice VII/X</tspan></text>
<text transform="translate(782.3,161) rotate(31.5)" font-family='"Liberation Serif", serif' font-size="24" fill="#1a84f8">(Mg<tspan font-size="17" dy="5" font-style="italic">0.88</tspan><tspan dy="-5">, Fe</tspan><tspan font-size="17" dy="5" font-style="italic">0.12</tspan><tspan dy="-5">)(Si</tspan><tspan font-size="17" dy="5" font-style="italic">0.9</tspan><tspan dy="-5">, Al</tspan><tspan font-size="17" dy="5" font-style="italic">0.1</tspan><tspan dy="-5">)</tspan><tspan font-size="16" dy="6">2</tspan><tspan dy="-6">O</tspan><tspan font-size="16" dy="6">6</tspan><tspan dy="-6">H</tspan><tspan font-size="16" dy="6">2</tspan><tspan dy="-6"></tspan></text>
<text transform="translate(988.5,370.5) rotate(20.5)" font-family='"Liberation Serif", serif' font-size="24" fill="#7e3b02">δ-(Al<tspan font-size="17" dy="5" font-style="italic">0.3</tspan><tspan dy="-5">, Fe</tspan><tspan font-size="17" dy="5" font-style="italic">0.7</tspan><tspan dy="-5">)OOH</tspan></text>
<text transform="translate(844,411.5) rotate(23.0)" font-family='"Liberation Serif", serif' font-size="24.5" fill="#28570c">δ-AlOOH</text>
<text x="1292.5" y="473.5" font-family='"Liberation Serif", serif' font-size="25" fill="#ebbf5c">Q<tspan font-size="16" dy="-11.5">6</tspan></text>
<text x="1403" y="530.5" font-family='"Liberation Serif", serif' font-size="25" fill="#b04c06">Q<tspan font-size="16" dy="-11.5">5</tspan></text>
<text x="1241.5" y="530" font-family='"Liberation Serif", serif' font-size="25" fill="#c80000">Q<tspan font-size="16" dy="-11.5">3</tspan></text>
</svg>
</body></html>
